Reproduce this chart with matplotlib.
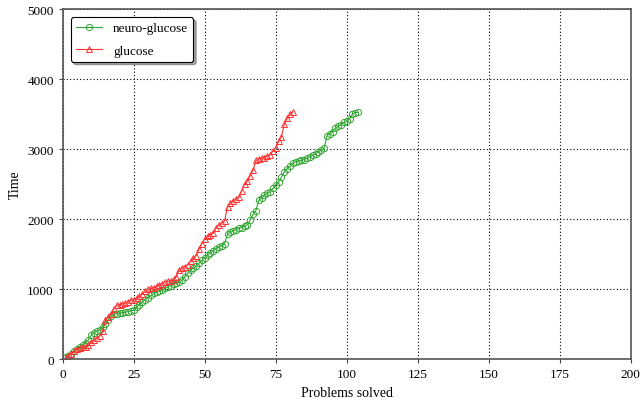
import matplotlib
matplotlib.use('Agg')
import matplotlib.pyplot as plt

plt.rcParams['font.family'] = ['Liberation Serif', 'DejaVu Serif']

# 데이터 (그림에서 읽은 누적 시간)
neuro_glucose = [30, 50, 80, 110, 150, 180, 200, 230, 280, 340,
                 380, 400, 420, 460, 500, 560, 620, 640, 650, 660,
                 665, 670, 680, 690, 700, 740, 780, 820, 850, 880,
                 910, 940, 960, 975, 990, 1010, 1030, 1050, 1070, 1085,
                 1100, 1130, 1180, 1230, 1270, 1300, 1330, 1370, 1410, 1450,
                 1490, 1520, 1550, 1580, 1600, 1620, 1650, 1790, 1810, 1830,
                 1850, 1870, 1880, 1900, 1920, 1990, 2070, 2120, 2270, 2300,
                 2340, 2370, 2390, 2440, 2490, 2530, 2600, 2680, 2720, 2760,
                 2800, 2820, 2830, 2840, 2850, 2870, 2890, 2910, 2930, 2960,
                 2990, 3010, 3190, 3220, 3250, 3300, 3330, 3350, 3380, 3400,
                 3430, 3500, 3520, 3525]
glucose = [20, 50, 80, 110, 140, 160, 170, 180, 200, 240,
           270, 300, 330, 400, 560, 600, 650, 720, 770, 780,
           790, 800, 820, 840, 850, 870, 900, 930, 970, 1000,
           1010, 1020, 1040, 1060, 1080, 1100, 1110, 1120, 1140, 1180,
           1280, 1300, 1320, 1350, 1400, 1450, 1480, 1570, 1650, 1720,
           1760, 1780, 1800, 1880, 1920, 1950, 1980, 2180, 2230, 2260,
           2290, 2310, 2400, 2500, 2550, 2620, 2700, 2840, 2860, 2870,
           2880, 2900, 2920, 2980, 3020, 3110, 3180, 3360, 3440, 3500,
           3530]

x_ng = list(range(1, len(neuro_glucose) + 1))
x_g = list(range(1, len(glucose) + 1))

fig = plt.figure(figsize=(6.41, 4.02), dpi=100)
ax = fig.add_axes([0.098, 0.104, 0.886, 0.871])

ax.plot(x_ng, neuro_glucose, color='#33a633', linewidth=0.8, marker='o',
        markersize=4.5, markerfacecolor='none', markeredgewidth=0.7,
        label='neuro-glucose')
ax.plot(x_g, glucose, color='#ff3333', linewidth=0.8, marker='^',
        markersize=4.5, markerfacecolor='none', markeredgewidth=0.7,
        label='glucose')

ax.set_xlim(0, 200)
ax.set_ylim(0, 5000)
ax.set_xticks(range(0, 201, 25))
ax.set_yticks(range(0, 5001, 1000))
ax.tick_params(direction='out', labelsize=9.5, length=3, color='#444444')
ax.grid(True, color='black', linestyle=(0, (1, 2)), linewidth=0.8)

# 테두리
for spine in ax.spines.values():
    spine.set_color('#555555')
    spine.set_linewidth(1.2)

ax.set_xlabel('Problems solved', fontsize=10, labelpad=4)
ax.set_ylabel('Time', fontsize=10)

leg = ax.legend(loc='upper left', fontsize=9.5, fancybox=True, shadow=True,
                framealpha=1, edgecolor='black', labelspacing=0.75,
                borderaxespad=0.6)
leg.get_frame().set_linewidth(0.8)

fig.savefig('out.png', dpi=100, facecolor='white')
